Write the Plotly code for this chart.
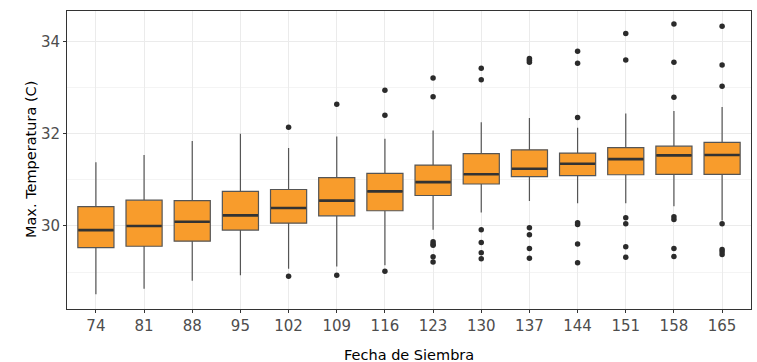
import plotly.graph_objects as go

categories = ["74", "81", "88", "95", "102", "109", "116", "123", "130", "137", "144", "151", "158", "165"]
q1 = [29.53, 29.56, 29.67, 29.91, 30.06, 30.22, 30.33, 30.66, 30.91, 31.07, 31.09, 31.11, 31.12, 31.12]
median = [29.91, 30.00, 30.09, 30.23, 30.39, 30.55, 30.75, 30.95, 31.12, 31.24, 31.35, 31.45, 31.53, 31.54]
q3 = [30.42, 30.56, 30.55, 30.75, 30.79, 31.05, 31.14, 31.32, 31.57, 31.65, 31.58, 31.70, 31.73, 31.81]
lower = [28.52, 28.64, 28.81, 28.93, 29.07, 29.12, 29.15, 29.92, 30.29, 30.54, 30.49, 30.49, 30.43, 30.12]
upper = [31.38, 31.54, 31.84, 32.00, 31.69, 31.94, 31.89, 32.07, 32.25, 32.34, 32.13, 32.44, 32.49, 32.58]
outliers = {
    "102": [32.14, 28.91],
    "109": [32.64, 28.93],
    "116": [32.94, 32.40, 29.02],
    "123": [33.21, 32.80, 29.66, 29.61, 29.58, 29.33, 29.22],
    "130": [33.42, 33.17, 29.92, 29.64, 29.42, 29.29],
    "137": [33.63, 33.59, 33.55, 29.96, 29.81, 29.51, 29.30],
    "144": [33.79, 33.53, 32.35, 30.07, 30.03, 29.61, 29.20],
    "151": [34.17, 33.60, 30.18, 30.05, 29.55, 29.32],
    "158": [34.38, 33.55, 32.79, 30.20, 30.14, 29.51, 29.34],
    "165": [34.33, 33.49, 33.03, 30.05, 29.49, 29.44, 29.38],
}
y_ticks = [30, 32, 34]
x_title = "Fecha de Siembra"
y_title = "Max. Temperatura (C)"

pos = list(range(len(categories)))
half = 0.375

fig = go.Figure()
fig.add_trace(go.Box(
    x=pos, q1=q1, median=median, q3=q3, lowerfence=lower, upperfence=upper,
    width=0.75, fillcolor="#F89C2C", line=dict(color="#555555", width=1.2),
    whiskerwidth=0, boxpoints=False, showlegend=False, hoverinfo="skip",
))

# thicker median lines (ggplot fatten)
mx, my = [], []
for i, m in zip(pos, median):
    mx += [i - half + 0.01, i + half - 0.01, None]
    my += [m, m, None]
fig.add_trace(go.Scatter(x=mx, y=my, mode="lines", line=dict(color="#333333", width=2.6),
                         showlegend=False, hoverinfo="skip"))

ox, oy = [], []
for c, vals in outliers.items():
    i = categories.index(c)
    ox += [i] * len(vals)
    oy += vals
fig.add_trace(go.Scatter(x=ox, y=oy, mode="markers",
                         marker=dict(color="#2b2b2b", size=5.5, line=dict(width=0)),
                         showlegend=False, hoverinfo="skip"))

fig.update_layout(
    width=757, height=362,
    margin=dict(l=67, r=6, t=11, b=53, autoexpand=False),
    plot_bgcolor="white", paper_bgcolor="white",
    font=dict(family="DejaVu Sans", color="#000000"),
    annotations=[
        dict(text=x_title, xref="paper", yref="paper", x=0.5, y=-0.154,
             xanchor="center", yanchor="middle", showarrow=False,
             font=dict(size=14.5, color="#000000")),
        dict(text=y_title, xref="paper", yref="paper", x=-0.0526, y=0.5,
             xanchor="center", yanchor="middle", showarrow=False, textangle=-90,
             font=dict(size=14.5, color="#000000")),
    ],
)
fig.update_xaxes(
    tickmode="array", tickvals=pos, ticktext=categories,
    range=[-0.6, 13.6],
    showgrid=True, gridcolor="#ebebeb", gridwidth=1,
    showline=True, linecolor="#333333", linewidth=1, mirror=True,
    ticks="outside", ticklen=3, tickcolor="#333333",
    tickfont=dict(size=15, color="#4d4d4d"),
    zeroline=False, automargin=False,
)
fig.update_yaxes(
    tickmode="array", tickvals=y_ticks, ticktext=[str(t) for t in y_ticks],
    range=[28.2, 34.66],
    showgrid=True, gridcolor="#ebebeb", gridwidth=1,
    minor=dict(tickmode="array", tickvals=[29, 31, 33], showgrid=True, gridcolor="#f4f4f4", gridwidth=0.8, ticks=""),
    showline=True, linecolor="#333333", linewidth=1, mirror=True,
    ticks="outside", ticklen=3, tickcolor="#333333",
    tickfont=dict(size=15, color="#4d4d4d"),
    zeroline=False, automargin=False,
)

fig.write_html("out.html")
